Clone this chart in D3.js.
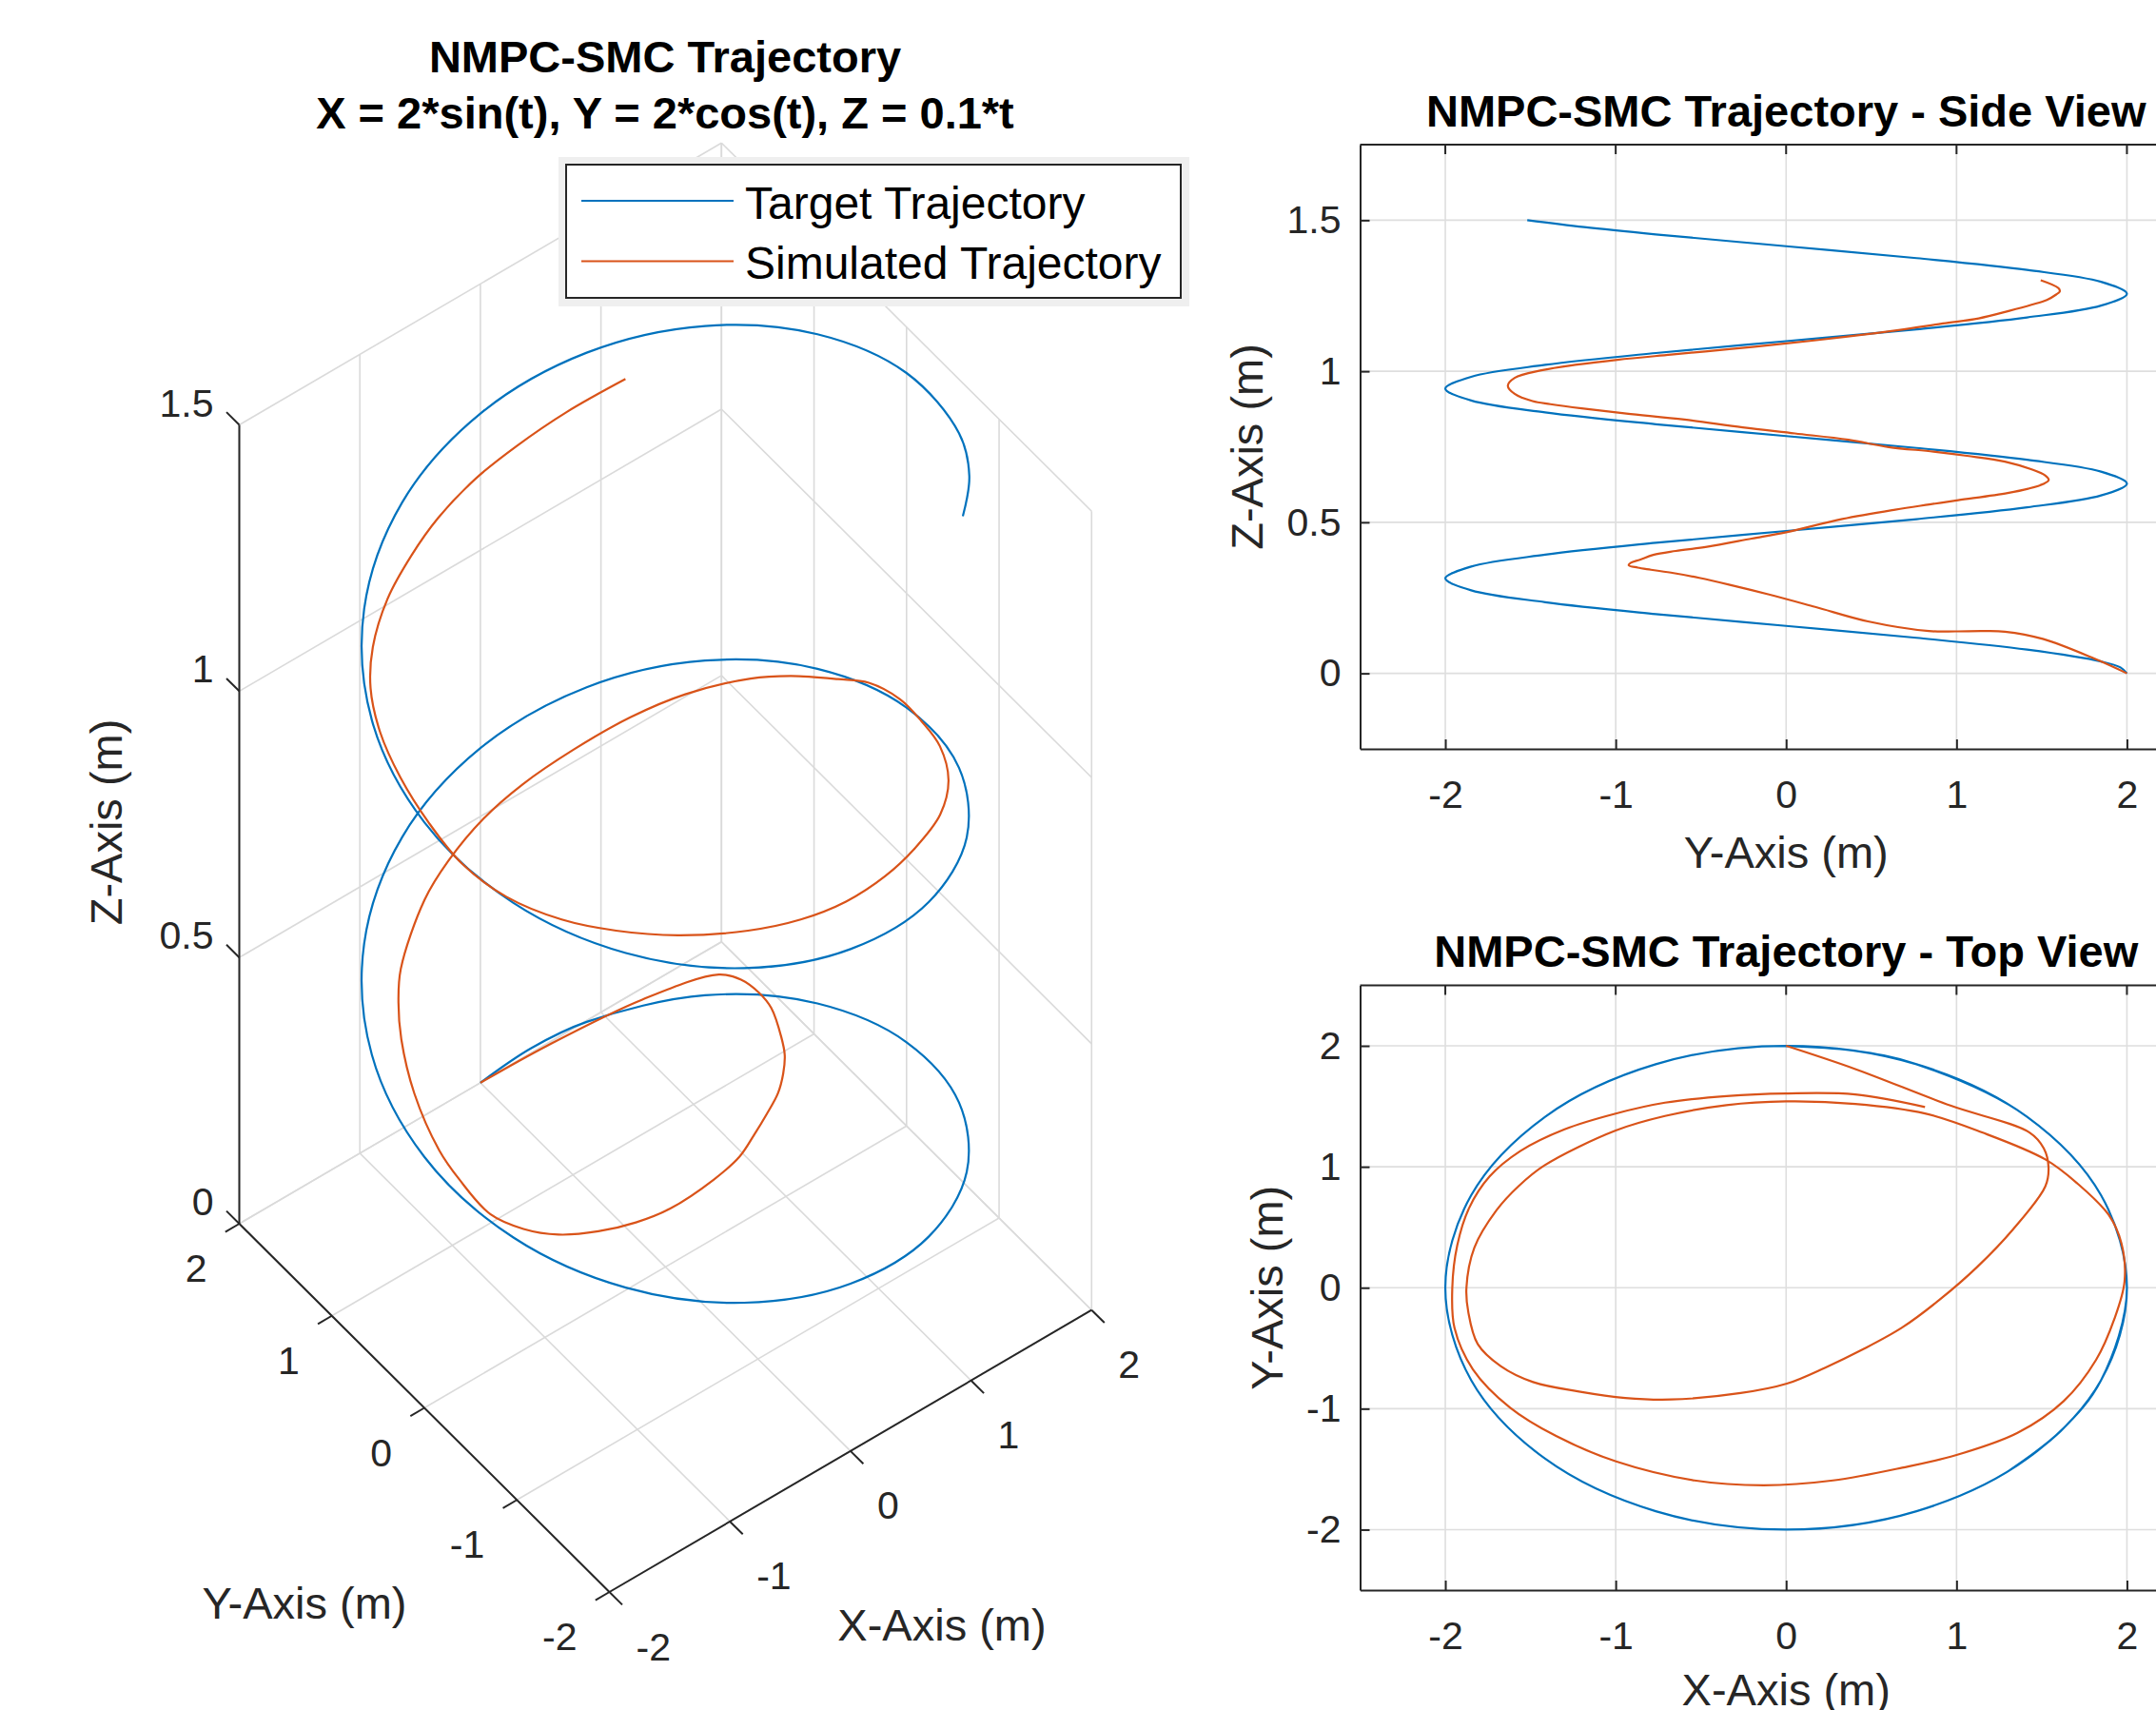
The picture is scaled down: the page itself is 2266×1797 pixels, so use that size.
<!DOCTYPE html>
<html>
<head>
<meta charset="utf-8">
<script src="https://cdn.jsdelivr.net/npm/d3@7"></script>
<style>
  html, body { margin: 0; padding: 0; background: #ffffff; }
  svg { display: block; }
</style>
</head>
<body>
<svg id="chart" width="2266" height="1797"></svg>
<script>
// ---------------- DATA ----------------
// Target trajectory samples (X = 2 sin t, Y = 2 cos t, Z = 0.1 t), t in [0, 15]
const tgtX = [0, 0.389, 0.765, 1.414, 1.848, 2, 1.848, 1.414, 0.765, 0, -0.765, -1.414, -1.848, -2, -1.848, -1.414, -0.765,
              0, 0.765, 1.414, 1.848, 2, 1.848, 1.414, 0.765, 0, -0.765, -1.414, -1.848, -2, -1.848, -1.414, -0.765,
              0, 0.765, 1.414, 1.848, 2, 1.848, 1.611, 1.301];
const tgtY = [2, 1.962, 1.848, 1.414, 0.765, 0, -0.765, -1.414, -1.848, -2, -1.848, -1.414, -0.765, 0, 0.765, 1.414, 1.848,
              2, 1.848, 1.414, 0.765, 0, -0.765, -1.414, -1.848, -2, -1.848, -1.414, -0.765, 0, 0.765, 1.414, 1.848,
              2, 1.848, 1.414, 0.765, 0, -0.765, -1.185, -1.519];
const tgtZ = [0, 0.0196, 0.0393, 0.0785, 0.1178, 0.1571, 0.1963, 0.2356, 0.2749, 0.3142, 0.3534, 0.3927, 0.4320, 0.4712, 0.5105, 0.5498, 0.5890,
              0.6283, 0.6676, 0.7069, 0.7461, 0.7854, 0.8247, 0.8639, 0.9032, 0.9425, 0.9817, 1.0210, 1.0603, 1.0996, 1.1388, 1.1781, 1.2174,
              1.2566, 1.2959, 1.3352, 1.3744, 1.4137, 1.4530, 1.477, 1.5];

// Simulated trajectory (read from the top and side views)
const simX = [0, 0.406, 0.964, 1.428, 1.512, 1.54, 1.521, 1.33, 1.12, 0.90, 0.68, 0.45, 0.23, 0.004, -0.267, -0.673,
              -0.944, -1.215, -1.485, -1.675, -1.81, -1.865, -1.876, -1.83, -1.70, -1.57, -1.42, -1.0, -0.711, -0.35, 0,
              0.406, 0.815, 1.15, 1.521, 1.707, 1.893, 1.968, 1.986, 1.927, 1.819, 1.629, 1.358, 1.0, 0.681, 0.275, -0.131,
              -0.538, -0.998, -1.35, -1.621, -1.838, -1.946, -1.959, -1.93, -1.86, -1.74, -1.56, -1.3, -1.0, -0.711, -0.35, 0,
              0.406, 0.815];
const simY = [2, 1.808, 1.506, 1.284, 1.153, 0.995, 0.838, 0.48, 0.17, -0.10, -0.33, -0.51, -0.66, -0.793, -0.871, -0.924,
              -0.911, -0.858, -0.78, -0.648, -0.465, -0.202, 0.0, 0.33, 0.64, 0.84, 1.01, 1.30, 1.42, 1.51, 1.541,
              1.52, 1.441, 1.284, 1.061, 0.865, 0.602, 0.366, 0.052, -0.255, -0.596, -0.937, -1.2, -1.383, -1.488, -1.593, -1.633,
              -1.593, -1.436, -1.226, -0.99, -0.675, -0.333, 0.0, 0.35, 0.66, 0.92, 1.13, 1.31, 1.44, 1.53, 1.585, 1.606,
              1.598, 1.494];
const simZ = [0, 0.049, 0.114, 0.138, 0.14, 0.139, 0.14, 0.172, 0.220, 0.261, 0.293, 0.316, 0.332, 0.343, 0.350, 0.358,
              0.366, 0.376, 0.392, 0.405, 0.419, 0.446, 0.467, 0.511, 0.542, 0.559, 0.573, 0.597, 0.611, 0.627, 0.640,
              0.655, 0.675, 0.701, 0.720, 0.734, 0.749, 0.773, 0.794, 0.814, 0.840, 0.860, 0.877, 0.891, 0.901, 0.925, 0.952,
              0.978, 1.003, 1.022, 1.038, 1.055, 1.073, 1.092, 1.114, 1.136, 1.158, 1.175, 1.200, 1.220, 1.236, 1.254, 1.264,
              1.275, 1.301];

const xyTicks = [-2, -1, 0, 1, 2];
const zTicks = [0, 0.5, 1, 1.5];
const seriesNames = ["Target Trajectory", "Simulated Trajectory"];
const seriesColors = ["#0072BD", "#D95319"];

const mainTitle = ["NMPC-SMC Trajectory", "X = 2*sin(t), Y = 2*cos(t), Z = 0.1*t"];
const sideTitle = "NMPC-SMC Trajectory - Side View";
const topTitle = "NMPC-SMC Trajectory - Top View";

// ---------------- STYLE ----------------
const FONT = '"Liberation Sans", Arial, Helvetica, sans-serif';
const AX = "#262626", GRID = "#dedede", GRID3 = "#dadada";
const TICK_FS = 41, LABEL_FS = 47, TITLE_FS = 47, LEG_FS = 48;
const LW = 2.2;
const fmt = d => String(d);

const svg = d3.select("#chart");
svg.append("rect").attr("width", 2266).attr("height", 1797).attr("fill", "#ffffff");

const tgt = d3.range(tgtX.length).map(i => ({x: tgtX[i], y: tgtY[i], z: tgtZ[i]}));
const sim = d3.range(simX.length).map(i => ({x: simX[i], y: simY[i], z: simZ[i]}));
const curve = d3.curveCatmullRom.alpha(0.5);

// ---------------- 3D PLOT ----------------
const origin3 = [640.5, 1673]; // screen position of (x=-2, y=-2, z=0)
const x3 = {h: d3.scaleLinear().domain([-2, 2]).range([0, 506.8]), v: d3.scaleLinear().domain([-2, 2]).range([0, -296.3])};
const y3 = {h: d3.scaleLinear().domain([-2, 2]).range([0, -389]), v: d3.scaleLinear().domain([-2, 2]).range([0, -387])};
const z3 = {h: d3.scaleLinear().domain([0, 1.5]).range([0, 0]), v: d3.scaleLinear().domain([0, 1.5]).range([0, -839.5])};
function P(x, y, z) {
  return [origin3[0] + x3.h(x) + y3.h(y) + z3.h(z), origin3[1] + x3.v(x) + y3.v(y) + z3.v(z)];
}
const g3 = svg.append("g");

// grid lines (floor + two back walls)
const gridSegs = [];
xyTicks.forEach(v => {
  gridSegs.push([[v, -2, 0], [v, 2, 0]]);
  gridSegs.push([[-2, v, 0], [2, v, 0]]);
  gridSegs.push([[v, 2, 0], [v, 2, 1.5]]);
  gridSegs.push([[2, v, 0], [2, v, 1.5]]);
});
zTicks.forEach(z => {
  gridSegs.push([[-2, 2, z], [2, 2, z]]);
  gridSegs.push([[2, -2, z], [2, 2, z]]);
});
g3.selectAll("line.grid3").data(gridSegs).enter().append("line")
  .attr("x1", d => P(...d[0])[0]).attr("y1", d => P(...d[0])[1])
  .attr("x2", d => P(...d[1])[0]).attr("y2", d => P(...d[1])[1])
  .attr("stroke", GRID3).attr("stroke-width", 1.6);

// axes lines
const axSegs = [[[-2, -2, 0], [-2, 2, 0]], [[-2, -2, 0], [2, -2, 0]], [[-2, 2, 0], [-2, 2, 1.5]]];
g3.selectAll("line.ax3").data(axSegs).enter().append("line")
  .attr("x1", d => P(...d[0])[0]).attr("y1", d => P(...d[0])[1])
  .attr("x2", d => P(...d[1])[0]).attr("y2", d => P(...d[1])[1])
  .attr("stroke", AX).attr("stroke-width", 2);

// ticks
function tick3(base, dir, len) {
  g3.append("line").attr("x1", base[0]).attr("y1", base[1])
    .attr("x2", base[0] + dir[0] * len).attr("y2", base[1] + dir[1] * len)
    .attr("stroke", AX).attr("stroke-width", 2);
}
zTicks.forEach(z => {
  const b = P(-2, 2, z);
  tick3(b, [-0.710, -0.704], 19);
  g3.append("text").attr("x", b[0] - 27).attr("y", b[1] - 23)
    .attr("text-anchor", "end").attr("dominant-baseline", "central")
    .attr("font-family", FONT).attr("font-size", TICK_FS).attr("fill", AX).text(fmt(z));
});
xyTicks.forEach(v => {
  const b = P(-2, v, 0);
  tick3(b, [-0.863, 0.505], 17);
  g3.append("text").attr("x", b[0] - 34).attr("y", b[1] + 47)
    .attr("text-anchor", "end").attr("dominant-baseline", "central")
    .attr("font-family", FONT).attr("font-size", TICK_FS).attr("fill", AX).text(fmt(v));
});
xyTicks.forEach(v => {
  const b = P(v, -2, 0);
  tick3(b, [0.710, 0.704], 19);
  g3.append("text").attr("x", b[0] + 28).attr("y", b[1] + 57.5)
    .attr("text-anchor", "start").attr("dominant-baseline", "central")
    .attr("font-family", FONT).attr("font-size", TICK_FS).attr("fill", AX).text(fmt(v));
});

// axis labels
g3.append("text").attr("x", 320).attr("y", 1684).attr("text-anchor", "middle").attr("dominant-baseline", "central")
  .attr("font-family", FONT).attr("font-size", LABEL_FS).attr("fill", AX).text("Y-Axis (m)");
g3.append("text").attr("x", 990).attr("y", 1707).attr("text-anchor", "middle").attr("dominant-baseline", "central")
  .attr("font-family", FONT).attr("font-size", LABEL_FS).attr("fill", AX).text("X-Axis (m)");
g3.append("text").attr("transform", "translate(111,864) rotate(-90)").attr("text-anchor", "middle").attr("dominant-baseline", "central")
  .attr("font-family", FONT).attr("font-size", LABEL_FS).attr("fill", AX).text("Z-Axis (m)");

// curves
const line3 = d3.line().x(d => P(d.x, d.y, d.z)[0]).y(d => P(d.x, d.y, d.z)[1]).curve(curve);
[tgt, sim].forEach((data, i) => {
  g3.append("path").attr("d", line3(data)).attr("fill", "none")
    .attr("stroke", seriesColors[i]).attr("stroke-width", LW).attr("stroke-linejoin", "round");
});

// main title
mainTitle.forEach((t, i) => {
  svg.append("text").attr("x", 699).attr("y", i === 0 ? 76 : 135).attr("text-anchor", "middle")
    .attr("font-family", FONT).attr("font-weight", "bold").attr("font-size", TITLE_FS).attr("fill", "#000").text(t);
});

// legend
const lg = svg.append("g");
lg.append("rect").attr("x", 587).attr("y", 165).attr("width", 663).attr("height", 157).attr("fill", "#efefef");
lg.append("rect").attr("x", 595).attr("y", 173).attr("width", 646).attr("height", 140)
  .attr("fill", "#ffffff").attr("stroke", AX).attr("stroke-width", 2);
seriesNames.forEach((name, i) => {
  const cy = 211 + i * 63.5;
  lg.append("line").attr("x1", 611).attr("x2", 771).attr("y1", cy).attr("y2", cy)
    .attr("stroke", seriesColors[i]).attr("stroke-width", LW);
  lg.append("text").attr("x", 783).attr("y", cy + 18.5).attr("font-family", FONT)
    .attr("font-size", LEG_FS).attr("fill", "#000").text(name);
});

// ---------------- 2D PANELS ----------------
function panel(opt) {
  const g = svg.append("g");
  const [x0, x1] = opt.xs.range();
  const [yb, yt] = opt.ys.range();
  // grid
  g.selectAll("line.gx").data(opt.xticks).enter().append("line")
    .attr("x1", d => opt.xs(d)).attr("x2", d => opt.xs(d)).attr("y1", yt).attr("y2", yb)
    .attr("stroke", GRID).attr("stroke-width", 1.6);
  g.selectAll("line.gy").data(opt.yticks).enter().append("line")
    .attr("y1", d => opt.ys(d)).attr("y2", d => opt.ys(d)).attr("x1", x0).attr("x2", x1)
    .attr("stroke", GRID).attr("stroke-width", 1.6);
  // data
  const ln = d3.line().x(d => opt.xs(d[opt.xk])).y(d => opt.ys(d[opt.yk])).curve(curve);
  [tgt, sim].forEach((data, i) => {
    g.append("path").attr("d", ln(data)).attr("fill", "none")
      .attr("stroke", seriesColors[i]).attr("stroke-width", LW).attr("stroke-linejoin", "round");
  });
  // axes
  const ax = g.append("g").attr("transform", `translate(0,${yb})`)
    .call(d3.axisBottom(opt.xs).tickValues(opt.xticks).tickFormat(fmt).tickSizeInner(-10).tickSizeOuter(0).tickPadding(33));
  const ay = g.append("g").attr("transform", `translate(${x0},0)`)
    .call(d3.axisLeft(opt.ys).tickValues(opt.yticks).tickFormat(fmt).tickSizeInner(-10).tickSizeOuter(0).tickPadding(20));
  [ax, ay].forEach(a => {
    a.attr("font-family", FONT).attr("font-size", TICK_FS);
    a.selectAll("path, line").attr("stroke", AX).attr("stroke-width", 2);
    a.selectAll("text").attr("fill", AX);
  });
  // top border with mirrored ticks
  g.append("line").attr("x1", x0).attr("x2", x1).attr("y1", yt).attr("y2", yt).attr("stroke", AX).attr("stroke-width", 2);
  g.selectAll("line.tt").data(opt.xticks).enter().append("line")
    .attr("x1", d => opt.xs(d)).attr("x2", d => opt.xs(d)).attr("y1", yt).attr("y2", yt + 10)
    .attr("stroke", AX).attr("stroke-width", 2);
  // title & labels
  const cx = (x0 + x1) / 2;
  g.append("text").attr("x", cx).attr("y", opt.titleY).attr("text-anchor", "middle")
    .attr("font-family", FONT).attr("font-weight", "bold").attr("font-size", TITLE_FS).attr("fill", "#000").text(opt.title);
  g.append("text").attr("x", cx).attr("y", yb + opt.xlabelDy).attr("text-anchor", "middle").attr("dominant-baseline", "central")
    .attr("font-family", FONT).attr("font-size", LABEL_FS).attr("fill", AX).text(opt.xlabel);
  g.append("text").attr("transform", `translate(${opt.ylabelX},${(yb + yt) / 2}) rotate(-90)`)
    .attr("text-anchor", "middle").attr("dominant-baseline", "central")
    .attr("font-family", FONT).attr("font-size", LABEL_FS).attr("fill", AX).text(opt.ylabel);
}

const hScale = () => d3.scaleLinear().domain([-2.5, 2.5]).range([1429.5, 2325]);

panel({
  xs: hScale(),
  ys: d3.scaleLinear().domain([-0.25, 1.75]).range([787, 152]),
  xk: "y", yk: "z",
  xticks: xyTicks, yticks: zTicks,
  title: sideTitle, titleY: 133,
  xlabel: "Y-Axis (m)", xlabelDy: 108, ylabel: "Z-Axis (m)", ylabelX: 1310
});

panel({
  xs: hScale(),
  ys: d3.scaleLinear().domain([-2.5, 2.5]).range([1671, 1035.5]),
  xk: "x", yk: "y",
  xticks: xyTicks, yticks: xyTicks,
  title: topTitle, titleY: 1016,
  xlabel: "X-Axis (m)", xlabelDy: 104, ylabel: "Y-Axis (m)", ylabelX: 1331
});
</script>
</body>
</html>
